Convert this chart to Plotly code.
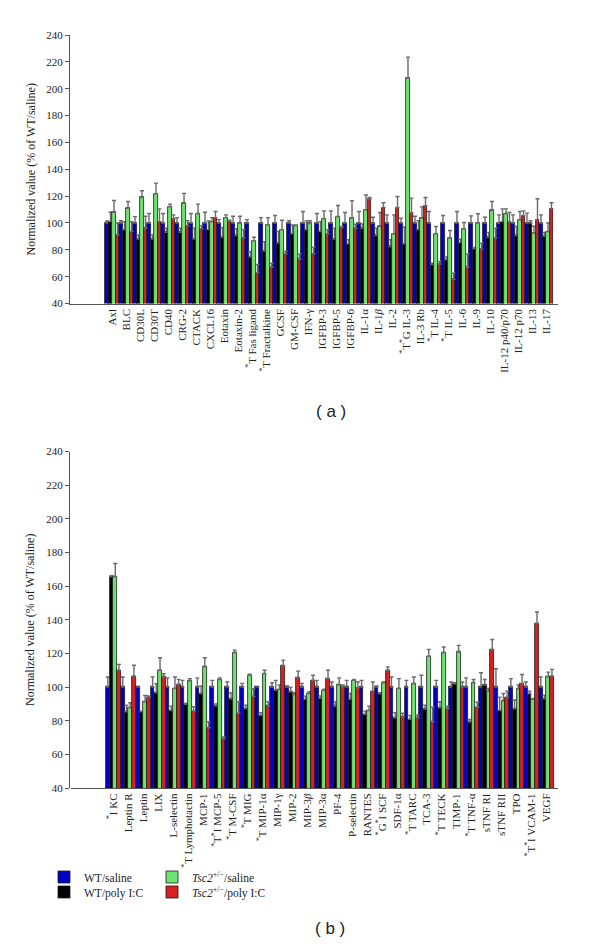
import plotly.graph_objects as go

# ---------------- Panel (a) data ----------------
A_CATS = ["Axl", "BLC", "CD30L", "CD30T", "CD40", "CRG-2", "CTACK", "CXCL16", "Eotaxin",
          "Eotaxin-2", "<sup>*</sup>T Fas ligand", "<sup>*</sup>T Fractalkine", "GCSF", "GM-CSF",
          "IFN-γ", "IGFBP-3", "IGFBP-5", "IGFBP-6", "IL-1α", "IL-1<i>β</i>", "IL-2",
          "<sup>*</sup>T<sup>*</sup>G IL-3", "IL-3 Rb", "<sup>*</sup>T IL-4", "<sup>*</sup>T IL-5",
          "IL-6", "IL-9", "IL-10", "IL-12 p40/p70", "IL-12 p70", "IL-13", "IL-17"]

A_WT_SALINE = [100] * 32
A_WT_SALINE_SEM = [1.5, 1.6, 4.7, 7, 7, 4, 7, 8, 2.5, 5, 2.5, 4, 5.5, 1.6, 8.5, 7,
                   9, 7.8, 8.5, 4.3, 6, 3.6, 5, 8.5, 5.5, 8.5, 5.3, 4.3, 6, 6, 7.3, 6]
A_WT_POLY = [101, 95, 88, 88, 93, 93, 88, 95, 89.5, 90.7, 74.6, 79, 85, 92, 95, 93.6,
             88, 84.5, 96, 90.7, 82.5, 84.5, 95, 69, 72.6, 85.4, 80.8, 89.4, 101, 90.7, 100, 90]
A_WT_POLY_SEM = [7, 6, 3, 3, 3, 3, 8, 6.5, 7, 5, 4, 7, 8.6, 6.6, 6.5, 7.4,
                 8, 3, 3.3, 5.3, 5, 12.5, 6.6, 1, 2, 2.5, 1, 3.6, 9.5, 6.7, 1.6, 2.9]
A_TSC_SALINE = [108, 111, 119, 121.7, 112, 114.7, 107, 101, 104, 100, 86.7, 98.6, 95, 98, 99.6, 103,
                104.8, 103.6, 109.8, 97.4, 92, 208, 103.6, 92, 88.7, 95.6, 100, 109.3, 107, 102.3, 92.5, 93.6]
A_TSC_SALINE_SEM = [8.7, 5, 5, 8, 2, 7.3, 7, 3, 2, 5, 2.7, 5.4, 7, 0.6, 2, 6,
                    8.2, 13, 11, 10.4, 14, 15.5, 8.4, 5.4, 5.7, 4.7, 6.8, 6.7, 3.5, 6.2, 5, 6.4]
A_TSC_POLY = [91, 93.6, 96, 101, 103, 98, 95.6, 104, 101.5, 88.7, 63, 67, 77, 73, 77, 92,
              96.6, 96, 117.7, 111.5, 111.5, 107.6, 112.8, 69.4, 58, 67, 80.5, 88.7, 100.6, 105.5, 102.5, 110.5]
A_TSC_POLY_SEM = [9, 7.4, 9, 9.5, 3, 3.6, 2.4, 4.5, 0.5, 6.3, 6, 3, 2, 4, 5, 3,
                  0.7, 3, 1.3, 3.5, 8.2, 10.9, 6.2, 2, 4.5, 10, 4.5, 7.3, 7.2, 3.5, 15.5, 4.5]

# ---------------- Panel (b) data ----------------
B_CATS = ["<sup>*</sup>I KC", "Leptin R", "Leptin", "LIX", "L-selectin", "<sup>*</sup>T Lymphotactin",
          "MCP-1", "<sup>*</sup>T<sup>*</sup>I MCP-5", "<sup>*</sup>T M-CSF", "<sup>*</sup>T MIG",
          "<sup>*</sup>T MIP-1α", "MIP-1γ", "MIP-2", "MIP-3<i>β</i>", "MIP-3α", "PF-4", "P-selectin",
          "RANTES", "<sup>*</sup>G<sup>*</sup>I SCF", "SDF-1α", "<sup>*</sup>T TARC", "TCA-3",
          "<sup>*</sup>T TECK", "TIMP-1", "<sup>*</sup>T TNF-α", "sTNF RI", "sTNF RII", "TPO",
          "<sup>*</sup>T<sup>*</sup>I VCAM-1", "VEGF"]

B_WT_SALINE = [100] * 30
B_WT_SALINE_SEM = [6, 6, 0, 6, 5.5, 4, 5.5, 4, 3, 2.2, 0, 2.6, 0.6, 2.2, 4,
                   3, 4, 4, 0.6, 6, 4, 7, 4, 3, 5.5, 8.5, 10.9, 5, 3, 6]
B_WT_POLY = [165.5, 85.3, 85.3, 96.6, 86, 89.7, 96.2, 88.7, 93, 87.3, 83.2, 98.2, 97.2, 92.7, 93.3,
             88.7, 92.7, 83.8, 96, 81.8, 80.8, 87, 87.7, 102, 79.2, 101.2, 86, 87.1, 96, 93]
B_WT_POLY_SEM = [0.7, 4, 0, 5.4, 2.7, 0.7, 4.4, 1.3, 3.5, 2, 1.6, 5.8, 2.8, 1.9, 1.4,
                 2.6, 3.5, 1.9, 0.6, 3, 2.4, 2.3, 3.6, 0.6, 1.6, 3.3, 8, 5.2, 1.6, 2.2]
B_TSC_SALINE = [165.5, 87.7, 91.3, 110, 99.2, 103.6, 112, 104.5, 120.4, 107.1, 108, 98.6, 95.6, 96.2, 98.2,
                101.2, 104, 86, 102.6, 99.2, 102, 118.4, 120.4, 120.8, 102.6, 97.6, 91.7, 99, 92.7, 106.1]
B_TSC_SALINE_SEM = [8, 3, 3.7, 7.4, 6.8, 1.4, 5.4, 1, 1.6, 0.5, 2, 2.6, 1, 1, 0.5,
                    4.3, 0.5, 2.7, 0.4, 5.8, 4, 4, 3.4, 4, 1.9, 1.6, 4.5, 2.2, 0.5, 2.8]
B_TSC_POLY = [110, 106.5, 94, 106, 101.6, 85.7, 75.8, 69.3, 84.4, 94.3, 88.7, 112.5, 105.5, 104, 105,
              100.2, 99.6, 97.6, 110, 82.2, 81.8, 79.4, 87.1, 100, 88, 122, 94, 102, 137.8, 106.5]
B_TSC_POLY_SEM = [3.5, 6.5, 0.7, 2, 3, 2.6, 3.6, 1, 6.9, 4.7, 2.6, 3.5, 4, 3, 5,
                  1, 3.4, 5.4, 2, 2.2, 1.6, 8.6, 1.6, 3, 3, 6.3, 3.6, 5.5, 6.8, 4]

SERIES_NAMES = ["WT/saline", "WT/poly I:C",
                "<i>Tsc2</i><sup>+/−</sup>/saline", "<i>Tsc2</i><sup>+/−</sup>/poly I:C"]
SERIES_COLORS = ["#0000C8", "#000000", "#6FE36F", "#D92020"]
SERIES_LEGENDS = ["legend", "legend2", "legend3", "legend4"]

SERIF = "Liberation Serif, Times New Roman, serif"
W, H = 600, 948

fig = go.Figure()


def add_panel(cats, series, sems, xa, ya, show):
    xs = list(range(len(cats)))
    for i in range(4):
        fig.add_trace(go.Bar(
            x=xs, y=series[i], name=SERIES_NAMES[i],
            marker=dict(color=SERIES_COLORS[i], line=dict(color="#1a1a1a", width=0.8)),
            error_y=dict(type="data", array=sems[i], arrayminus=[0] * len(xs), symmetric=False,
                         color="#6a6a6a", thickness=1.4, width=2),
            xaxis=xa, yaxis=ya, showlegend=show, legend=SERIES_LEGENDS[i],
        ))


add_panel(A_CATS, [A_WT_SALINE, A_WT_POLY, A_TSC_SALINE, A_TSC_POLY],
          [A_WT_SALINE_SEM, A_WT_POLY_SEM, A_TSC_SALINE_SEM, A_TSC_POLY_SEM], "x", "y", False)
add_panel(B_CATS, [B_WT_SALINE, B_WT_POLY, B_TSC_SALINE, B_TSC_POLY],
          [B_WT_SALINE_SEM, B_WT_POLY_SEM, B_TSC_SALINE_SEM, B_TSC_POLY_SEM], "x2", "y2", True)

axis_line = "#555555"
tickfont = dict(family=SERIF, size=11, color="#222")


def yaxis(dom):
    return dict(domain=dom, range=[40, 240], dtick=20, tick0=40, showgrid=False, zeroline=False,
                showline=True, linecolor=axis_line, linewidth=1.2, ticks="outside", ticklen=4,
                tickcolor=axis_line, tickfont=tickfont,
                title=dict(text="Normalized value (% of WT/saline)",
                           font=dict(family=SERIF, size=12, color="#222"), standoff=8),
                automargin=False)


def xaxis(dom, n, rng, anchor):
    return dict(domain=dom, range=rng, tickmode="array", tickvals=list(range(n)),
                ticktext=(A_CATS if n == len(A_CATS) else B_CATS), tickangle=-90,
                showgrid=False, zeroline=False, showline=True, linecolor=axis_line, linewidth=1.2,
                ticks="", tickfont=tickfont, anchor=anchor, automargin=False)


def legend_box(left_px, center_px):
    return dict(x=left_px / W, y=1 - center_px / H, xanchor="left", yanchor="middle",
                bgcolor="rgba(0,0,0,0)", font=dict(family=SERIF, size=11.5, color="#222"))


fig.update_layout(
    width=W, height=H, margin=dict(l=0, r=0, t=0, b=0),
    paper_bgcolor="white", plot_bgcolor="white",
    barmode="group", bargap=0, bargroupgap=0,
    xaxis=xaxis([62 / W, 550 / W], len(A_CATS), [-3.02, 31.84], "y"),
    yaxis=yaxis([1 - 295.5 / H, 1 - 27 / H]),
    xaxis2=xaxis([63 / W, 550 / W], len(B_CATS), [-2.84, 29.78], "y2"),
    yaxis2=yaxis([1 - 780 / H, 1 - 443.6 / H]),
    legend=legend_box(36, 869),
    legend2=legend_box(36, 884),
    legend3=legend_box(144, 869),
    legend4=legend_box(144, 884),
    showlegend=True,
    annotations=[
        dict(text="( a )", x=323 / W, y=1 - 403 / H, xref="paper", yref="paper", showarrow=False,
             font=dict(family="Liberation Sans, Arial, sans-serif", size=17, color="#222")),
        dict(text="( b )", x=322 / W, y=1 - 932 / H, xref="paper", yref="paper", showarrow=False,
             font=dict(family="Liberation Sans, Arial, sans-serif", size=17, color="#222")),
    ],
)

fig.write_html("out.html")
